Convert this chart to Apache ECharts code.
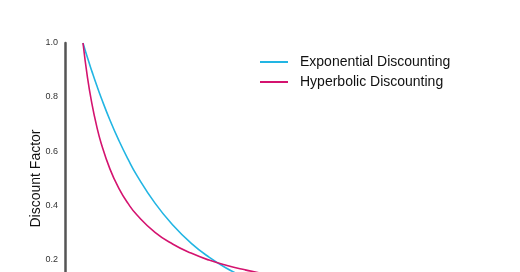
<!DOCTYPE html>
<html><head><meta charset="utf-8">
<script src="https://cdn.jsdelivr.net/npm/echarts@6/dist/echarts.min.js"></script>
<style>html,body{margin:0;padding:0;background:#fff}#c{width:520px;height:272px}</style>
</head><body><div id="c"></div>
<script>
const timePoints = [1,1.25,1.5,1.75,2,2.5,3,3.5,4,5,6,7,8,9,10,11,12,14,16,20,24];
const exponential = [1.000,0.945,0.894,0.845,0.799,0.714,0.638,0.570,0.509,0.407,0.325,0.259,0.207,0.165,0.132,0.105,0.084,0.054,0.034,0.014,0.006];
const hyperbolic = [1.000,0.872,0.774,0.695,0.631,0.533,0.461,0.406,0.363,0.299,0.255,0.222,0.196,0.176,0.160,0.146,0.134,0.116,0.102,0.083,0.069];
const seriesNames = ['Exponential Discounting','Hyperbolic Discounting'];
const yTicks = [0.2,0.4,0.6,0.8,1.0];

const chart = echarts.init(document.getElementById('c'), null, {renderer:'canvas'});
const font = '"Liberation Sans", Arial, sans-serif';
chart.setOption({
  animation:false,
  textStyle:{fontFamily:font},
  grid:{left:65, top:43, width:432, bottom:0, containLabel:false},
  legend:{
    orient:'vertical', left:260, top:55, padding:0, itemWidth:28, itemHeight:2, itemGap:6,
    icon:'rect',
    textStyle:{fontSize:14, color:'#111', fontFamily:font, padding:[0,0,0,7]},
    data:seriesNames
  },
  xAxis:{type:'value', min:0, max:24, show:false},
  yAxis:{
    type:'value', min:0.152, max:1,
    name:'Discount Factor', nameLocation:'middle', nameGap:22, nameRotate:90,
    nameMoveOverlap:false,
    nameTextStyle:{fontSize:14, color:'#111', fontFamily:font, padding:[0,42,0,0]},
    axisLine:{show:true, lineStyle:{color:'#555', width:2.5}},
    axisTick:{show:false}, splitLine:{show:false},
    axisLabel:{fontSize:9, color:'#333', margin:7, fontFamily:font,
      customValues:yTicks, formatter:v=>(+v).toFixed(1)}
  },
  series:[
    {name:seriesNames[0], type:'line', smooth:true, showSymbol:false,
     lineStyle:{color:'#22b5e3', width:1.6}, itemStyle:{color:'#22b5e3'},
     data:timePoints.map((t,i)=>[t,exponential[i]])},
    {name:seriesNames[1], type:'line', smooth:true, showSymbol:false,
     lineStyle:{color:'#d4136f', width:1.6}, itemStyle:{color:'#d4136f'},
     data:timePoints.map((t,i)=>[t,hyperbolic[i]])}
  ]
});
</script></body></html>
